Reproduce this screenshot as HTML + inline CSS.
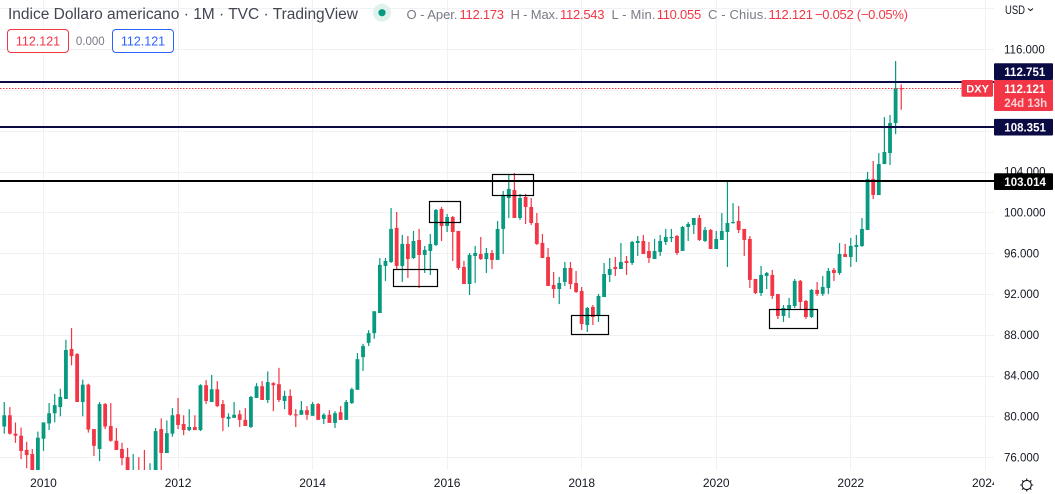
<!DOCTYPE html>
<html lang="it">
<head>
<meta charset="utf-8">
<title>Indice Dollaro americano - 1M - TVC - TradingView</title>
<style>
html,body{margin:0;padding:0;background:#fff;width:1055px;height:494px;overflow:hidden}
svg{display:block;font-family:"Liberation Sans",sans-serif}
</style>
</head>
<body>
<svg id="chart" width="1055" height="494" viewBox="0 0 1055 494" xmlns="http://www.w3.org/2000/svg">
  <defs><clipPath id="plot-clip"><rect x="0" y="0" width="994" height="470"/></clipPath>
  <clipPath id="time-clip"><rect x="0" y="470" width="994" height="24"/></clipPath></defs>
  <rect x="0" y="0" width="1055" height="494" fill="#ffffff"/>
  <g id="grid"></g>
  <g id="candles" clip-path="url(#plot-clip)"></g>
  <g id="drawings" clip-path="url(#plot-clip)"></g>
  <g id="price-axis"></g>
  <g id="time-axis" clip-path="url(#time-clip)"></g>
  <g id="tags"></g>

  <text x="8" y="19" font-size="15.5" fill="#434651" textLength="350" lengthAdjust="spacing">Indice Dollaro americano · 1M · TVC · TradingView</text>
  <circle cx="382" cy="12.7" r="9" fill="#dff2ee"/>
  <circle cx="382" cy="12.7" r="3.6" fill="#089981"/>

  <g font-size="13">
    <text x="406.5" y="19" fill="#787b86" textLength="51" lengthAdjust="spacing">O - Aper.</text>
    <text x="459.5" y="19" fill="#f23645" textLength="44.5" lengthAdjust="spacing">112.173</text>
    <text x="510.5" y="19" fill="#787b86" textLength="48" lengthAdjust="spacing">H - Max.</text>
    <text x="560" y="19" fill="#f23645" textLength="44.5" lengthAdjust="spacing">112.543</text>
    <text x="611.5" y="19" fill="#787b86" textLength="44" lengthAdjust="spacing">L - Min.</text>
    <text x="656.7" y="19" fill="#f23645" textLength="44.5" lengthAdjust="spacing">110.055</text>
    <text x="708" y="19" fill="#787b86" textLength="59" lengthAdjust="spacing">C - Chius.</text>
    <text x="768.5" y="19" fill="#f23645" textLength="44.5" lengthAdjust="spacing">112.121</text>
    <text x="815" y="19" fill="#f23645" textLength="93" lengthAdjust="spacing">−0.052 (−0.05%)</text>
  </g>

  <rect x="7.5" y="29.5" width="61" height="23" rx="3.5" fill="#ffffff" stroke="#f23645" stroke-width="1"/>
  <text x="38" y="45.5" font-size="12.5" fill="#f23645" text-anchor="middle">112.121</text>
  <text x="90.3" y="45" font-size="11.5" fill="#787b86" text-anchor="middle">0.000</text>
  <rect x="112.5" y="29.5" width="61" height="23" rx="3.5" fill="#ffffff" stroke="#2962ff" stroke-width="1"/>
  <text x="143" y="45.5" font-size="12.5" fill="#2962ff" text-anchor="middle">112.121</text>

  <text x="1005" y="14" font-size="12" fill="#131722" textLength="20" lengthAdjust="spacingAndGlyphs">USD</text>
  <path d="M1028 8.5 L1030.5 10.5 L1033 8.5" fill="none" stroke="#131722" stroke-width="1.1"/>

  <g fill="none" stroke="#131722" stroke-width="1.1">
    <circle cx="1026.7" cy="485" r="4.6"/>
    <path d="M1026.7 478.5v2M1026.7 489.5v2M1020.2 485h2M1031.2 485h2M1022.1 480.4l1.4 1.4M1029.9 488.2l1.4 1.4M1022.1 489.6l1.4-1.4M1029.9 481.8l1.4-1.4"/>
  </g>

<script>
/* Monthly candles, Jun 2009 to Oct 2022 */
const firstCandleOffset = -7; /* months relative to Jan 2010 */
const opens = [
79.0,80.1,78.3,78.1,76.7,76.3,74.5,
77.8,79.3,80.3,80.9,81.7,86.6,86.1,81.4,83.1,78.75,76.8,81.2,
79.05,77.6,76.8,76.0,74.0,74.4,74.5,73.8,74.4,78.75,76.4,78.3,
80.2,79.25,78.65,78.95,78.65,83.05,81.4,82.65,81.2,79.75,79.85,80.2,
79.65,78.95,81.8,82.95,81.6,83.25,83.15,81.5,82.0,80.2,80.15,80.6,
80.05,81.2,79.75,80.15,79.35,80.4,79.65,81.3,82.6,85.8,87.2,88.15,
90.13,94.74,95.13,98.47,94.74,96.9,95.52,97.29,95.82,96.21,96.8,100.33,
98.66,99.54,98.17,94.64,92.97,95.72,95.91,95.42,96.01,95.33,98.37,101.4,
102.19,99.44,101.5,100.52,98.95,97.0,95.62,92.88,92.48,93.17,94.54,93.07,
92.29,88.95,90.72,89.84,91.7,93.86,94.64,94.44,95.23,95.03,96.99,97.19,
96.21,95.42,96.11,97.09,97.48,97.68,96.21,98.56,98.76,99.44,97.19,98.27,
96.4,97.29,98.07,98.95,99.15,98.37,97.39,93.46,92.09,93.76,93.86,91.99,
89.84,90.52,90.81,93.27,91.31,89.74,92.39,92.0,92.58,94.35,94.05,95.91,
95.62,96.6,96.7,98.27,103.27,101.69,104.73,105.81,108.75,112.173
];
const highs = [
81.4,80.9,79.4,78.9,77.5,76.8,78.5,
79.4,81.3,82.2,82.7,87.5,88.65,86.2,83.6,83.2,78.75,81.4,81.3,
81.3,78.85,77.4,76.9,76.3,76.0,76.7,75.4,78.85,79.8,79.6,80.8,
81.8,80.1,80.7,80.1,83.15,83.55,84.05,83.45,81.6,80.3,81.4,80.6,
80.8,82.0,83.25,83.45,84.4,83.35,84.75,82.5,82.65,80.7,81.5,81.0,
81.4,81.3,80.3,80.6,80.5,81.0,81.6,82.8,86.2,87.1,88.45,90.3,
95.52,95.52,100.42,100.03,97.78,97.68,98.17,98.37,96.7,97.88,100.33,100.52,
99.84,99.64,98.17,95.23,96.01,96.7,97.58,96.5,96.31,99.15,102.09,103.76,
103.86,101.8,101.8,101.4,99.93,97.88,96.5,94.15,93.66,95.13,95.13,94.25,
92.68,90.72,90.91,91.99,95.03,95.52,95.62,96.99,95.72,97.19,97.68,97.78,
97.09,97.39,97.78,98.37,98.37,97.78,98.66,99.05,99.44,99.74,98.56,98.37,
98.17,99.93,103.0,100.9,100.62,98.37,97.68,93.46,94.74,94.15,94.35,91.99,
90.91,91.6,93.46,93.37,91.41,92.48,93.17,93.76,94.54,94.54,96.99,96.9,
97.48,97.78,99.44,103.95,105.03,105.81,109.34,109.54,114.83,112.543
];
const lows = [
78.3,78.2,77.4,75.8,74.9,74.2,74.2,
76.6,78.65,79.4,80.0,81.7,85.0,81.4,80.0,78.4,76.1,75.6,78.75,
77.5,76.7,75.2,74.0,73.7,73.5,73.6,73.6,73.5,74.7,76.4,78.0,
78.75,78.15,78.55,78.65,78.55,81.2,81.4,80.9,78.55,78.95,79.85,78.95,
79.05,78.85,81.8,81.6,81.3,80.5,81.4,80.7,80.05,78.95,80.15,79.65,
80.05,79.65,79.25,79.35,78.85,79.65,79.65,81.2,82.6,84.45,86.9,87.6,
90.13,93.27,95.03,94.35,93.17,93.56,95.42,92.58,94.05,93.86,96.7,97.19,
98.07,95.23,94.35,92.97,91.89,93.07,95.33,94.05,94.44,95.33,95.91,99.44,
99.44,99.25,98.85,98.76,96.8,95.52,92.78,91.6,91.0,92.78,92.48,92.09,
88.46,88.27,88.95,89.25,91.7,93.17,93.76,94.44,93.86,94.84,95.72,95.91,
95.03,95.42,95.72,96.8,97.09,95.82,96.21,97.19,97.87,97.19,97.09,96.4,
96.4,97.29,94.64,98.9,97.97,95.72,92.58,91.99,91.8,92.48,91.5,89.54,
89.25,89.64,90.62,90.43,89.54,89.64,91.8,91.8,92.0,93.27,93.86,95.62,
94.64,95.13,96.6,98.27,101.3,101.69,104.73,104.64,107.67,110.055
];
const closes = [
80.1,78.3,78.1,76.6,76.2,74.4,77.9,
79.4,80.3,81.1,81.9,86.5,85.9,81.4,83.1,78.7,77.1,81.2,79.0,
77.6,76.7,75.9,74.3,74.5,73.7,73.9,74.4,78.55,76.4,78.35,80.1,
79.15,78.65,78.95,78.65,83.05,81.5,82.65,81.0,79.85,79.95,80.15,79.65,
79.05,81.9,82.95,81.6,83.35,83.05,81.6,82.0,80.15,80.1,80.6,80.15,
81.2,79.65,80.15,79.35,80.3,79.65,81.4,82.65,85.6,86.9,88.15,90.3,
94.85,95.23,98.37,94.74,96.9,95.42,97.19,95.82,96.31,96.9,100.23,98.66,
99.54,98.07,94.54,92.97,95.82,96.01,95.42,96.01,95.33,98.37,101.7,102.29,
99.44,101.4,100.52,98.95,96.9,95.52,92.78,92.48,93.07,94.54,92.97,92.19,
89.05,90.62,89.74,91.8,93.95,94.44,94.44,95.13,95.03,97.09,97.19,95.91,
95.52,96.21,97.19,97.58,97.58,96.01,98.56,98.85,99.44,97.29,98.27,96.4,
97.38,98.17,98.95,99.05,98.27,97.29,93.37,92.09,93.86,94.05,91.8,89.84,
90.62,90.91,93.27,91.21,89.74,92.39,92.0,92.68,94.25,94.05,95.91,95.62,
96.7,96.8,98.37,103.27,101.7,104.73,105.91,108.75,112.18,112.121
];
const priceTicks = [76,80,84,88,92,96,100,104,108,112,116,120];
const priceTickLabels = ["76.000","80.000","84.000","88.000","92.000","96.000","100.000","104.000","108.000","112.000","116.000",""];
const yearLabels = ["2010","2012","2014","2016","2018","2020","2022","2024"];
const levelValues = [112.751,108.351,103.014];
const levelLabels = ["112.751","108.351","103.014"];
const levelNames = ["resistance-line-112-751","support-line-108-351","support-line-103-014"];
const lastPrice = 112.121;
const lastPriceLabel = "112.121";
/* annotation boxes: month offsets from Jan 2010 and price bounds */
const boxStarts = [62.4,68.82,80.06,94.15,129.47];
const boxEnds = [70.14,74.35,87.37,100.75,138.03];
const boxTops = [94.41,101.08,103.73,89.9,90.49];
const boxBottoms = [92.75,99.02,101.67,88.04,88.63];

const NS = "http://www.w3.org/2000/svg";
const UP = "#089981", DOWN = "#f23645";
const xAxis = m => 43.5 + 5.606 * m;
const yAxis = v => 212.3 + (100 - v) * 10.2;
function make(tag, attrs, parent, text){
  const n = document.createElementNS(NS, tag);
  for (const k in attrs) n.setAttribute(k, attrs[k]);
  if (text !== undefined) n.textContent = text;
  parent.appendChild(n);
  return n;
}
const gridG = document.getElementById("grid");
const candleG = document.getElementById("candles");
const drawG = document.getElementById("drawings");
const priceG = document.getElementById("price-axis");
const timeG = document.getElementById("time-axis");
const tagG = document.getElementById("tags");

priceTicks.forEach((t, i) => {
  const y = Math.round(yAxis(t)) + 0.5;
  const gl = make("line", {x1:0, x2:994, y1:y, y2:y, stroke:"#f0f1f4", "stroke-width":1}, gridG);
  
  
  if (priceTickLabels[i]) {
    const lb = make("text", {x:1004, y:yAxis(t) + 4.2, "font-size":11.5, fill:"#131722"}, priceG, priceTickLabels[i]);
    
    
  }
});
yearLabels.forEach(label => {
  const m = (Number(label) - 2010) * 12;
  const x = Math.floor(xAxis(m)) + 0.5;
  const gl = make("line", {x1:x, x2:x, y1:0, y2:470, stroke:"#f0f1f4", "stroke-width":1}, gridG);
  
  
  const lb = make("text", {x:xAxis(m), y:487, "font-size":12, fill:"#131722", "text-anchor":"middle"}, timeG, label);
  
  
});
closes.forEach((c, i) => {
  const o = opens[i], h = highs[i], l = lows[i];
  const col = c >= o ? UP : DOWN;
  const x = xAxis(firstCandleOffset + i);
  const g = make("g", {fill:col}, candleG);
  
  
  const wick = make("rect", {x:x - 0.6, width:1.2, y:yAxis(h), height:Math.max(1, yAxis(l) - yAxis(h))}, g);
  
  
  const top = yAxis(Math.max(o, c)), bot = yAxis(Math.min(o, c));
  const body = make("rect", {x:x - 1.9, width:3.8, y:top, height:Math.max(1.2, bot - top)}, g);
  
  
});
const lastY = yAxis(lastPrice);
const priceLine = make("line", {x1:0, x2:961, y1:Math.floor(lastY) + 0.5, y2:Math.floor(lastY) + 0.5, stroke:"#f23645", "stroke-width":1, "stroke-dasharray":"1.5 1.5"}, drawG);


const lastTagTop = 80;
levelValues.forEach((v, i) => {
  const y = yAxis(v);
  const col = i === 2 ? "#000000" : "#0a0a45";
  const ln = make("rect", {x:0, width:994, y:Math.floor(y) - 1, height:2, fill:col, "shape-rendering":"crispEdges"}, drawG);
  
  
  const tagTop = (y > lastTagTop - 8.5 && y < lastTagTop + 31) ? lastTagTop - 16.7 : y - 8.3;
  const bg = make("rect", {x:994, width:59, y:tagTop, height:16.7, rx:1, fill:col}, tagG);
  
  
  const tx = make("text", {x:1004.3, y:tagTop + 12.5, "font-size":11.5, "font-weight":"bold", fill:"#ffffff"}, tagG, levelLabels[i]);
  
  
});
boxStarts.forEach((s, i) => {
  const x1 = Math.round(xAxis(s)) + 0.5, x2 = Math.round(xAxis(boxEnds[i])) + 0.5;
  const y1 = Math.round(yAxis(boxTops[i])) + 0.5, y2 = Math.round(yAxis(boxBottoms[i])) + 0.5;
  const r = make("rect", {x:x1, y:y1, width:x2 - x1, height:y2 - y1, fill:"none", stroke:"#000000", "stroke-width":1.2}, drawG);
  
  
});
const symTag = make("rect", {x:961.5, y:lastTagTop, width:31.5, height:16.7, rx:1.5, fill:DOWN}, tagG);


const symTx = make("text", {x:966.3, y:92.6, "font-size":11, "font-weight":"bold", fill:"#ffffff"}, tagG, "DXY");


const lastBg = make("rect", {x:994, y:lastTagTop, width:59, height:31, rx:1, fill:DOWN}, tagG);


const lastTx = make("text", {x:1004.3, y:93, "font-size":11.5, "font-weight":"bold", fill:"#ffffff"}, tagG, lastPriceLabel);


const countTx = make("text", {x:1004.3, y:107, "font-size":11.5, "font-weight":"bold", fill:"#fbd0d4"}, tagG, "24d 13h");


</script>
</svg>
</body>
</html>
